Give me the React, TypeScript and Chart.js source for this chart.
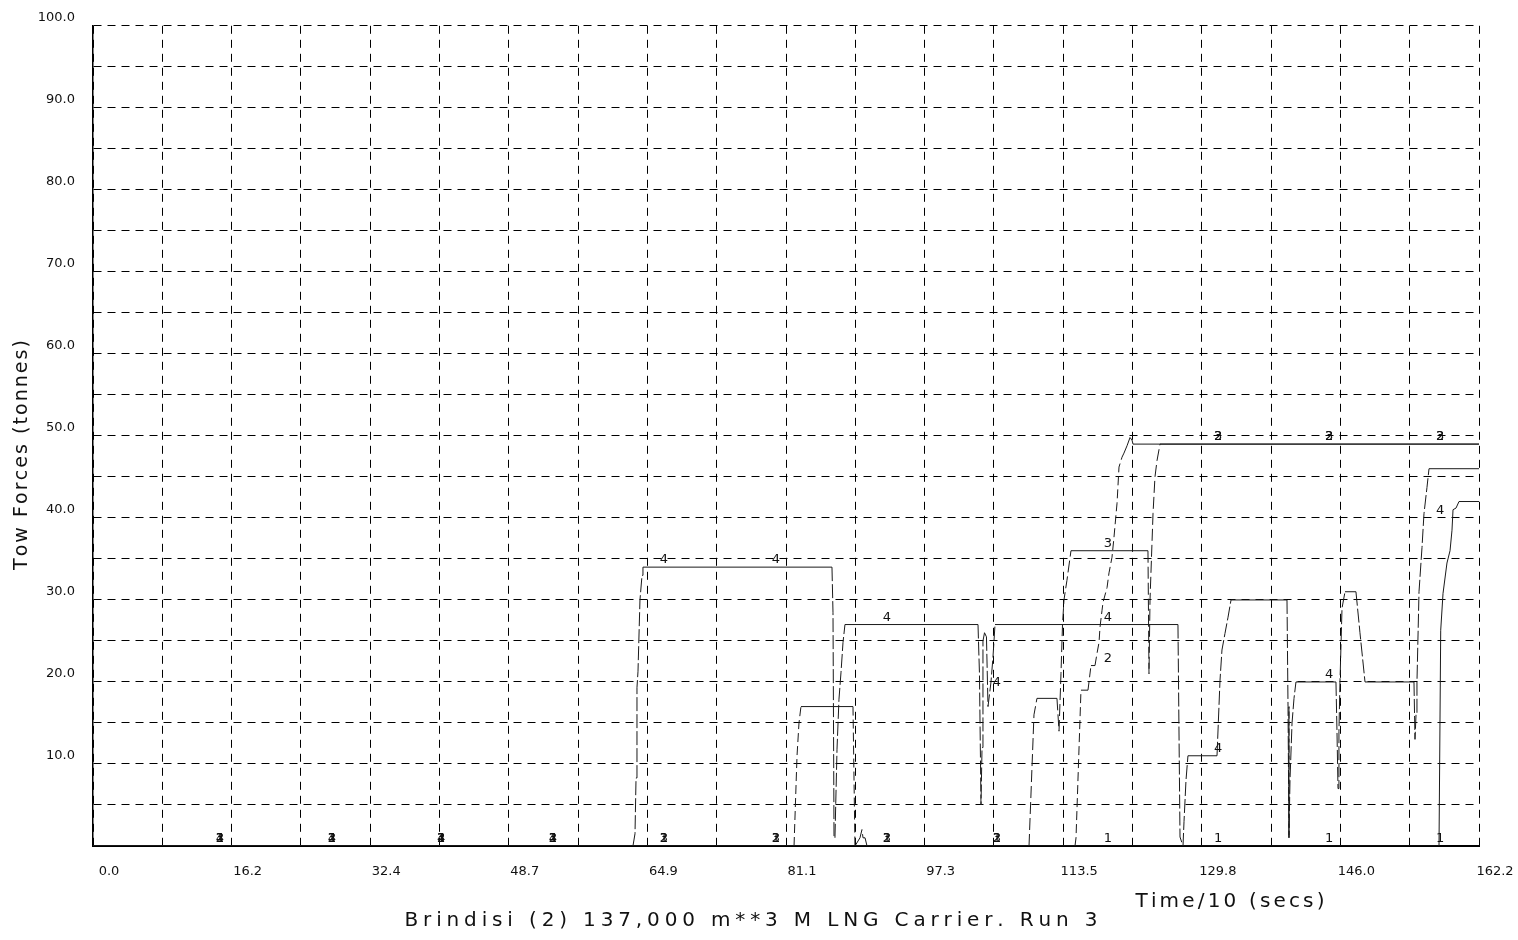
import React, { useEffect, useRef } from 'react';
import { Chart, registerables } from 'chart.js';

Chart.register(...registerables);

// ---- axes ----
const X_MIN = 0;
const X_MAX = 162.2;
const Y_MIN = 0;
const Y_MAX = 100;
const xGridTimes = [0, 8.11, 16.22, 24.33, 32.44, 40.55, 48.66, 56.77, 64.88, 72.99, 81.1, 89.21, 97.32, 105.43, 113.54, 121.65, 129.76, 137.87, 145.98, 154.09, 162.2];
const xTickLabels = ['0.0', '', '16.2', '', '32.4', '', '48.7', '', '64.9', '', '81.1', '', '97.3', '', '113.5', '', '129.8', '', '146.0', '', '162.2'];
const yGridValues = [0, 5, 10, 15, 20, 25, 30, 35, 40, 45, 50, 55, 60, 65, 70, 75, 80, 85, 90, 95, 100];

// ---- texts ----
const chartTitle = 'Brindisi (2) 137,000 m**3 M LNG Carrier. Run 3';
const xAxisTitle = 'Time/10 (secs)';
const yAxisTitle = 'Tow Forces (tonnes)';

// ---- tug 1 ----
const tug1Time = [0, 157.52, 157.72, 157.99, 158.45, 158.81, 159.04, 159.16, 159.51, 159.86, 162.2];
const tug1Force = [0, 0, 26.3, 30.8, 34.5, 36, 38.5, 41, 41.2, 42, 42];

// ---- tug 2 ----
const tug2Time = [
  0, 82.04, 82.39, 82.62, 82.85, 88.94, 89.17, 89.76, 89.99, 90.11,
  90.35, 90.58, 114.92, 115.04, 115.62, 116.44, 116.56, 116.79, 117.26, 117.5,
  117.73, 117.85, 118.08, 118.2, 118.67, 118.9, 119.25, 119.48, 119.84, 120.07,
  120.42, 120.65, 121.01, 121.36, 121.59, 121.71, 162.2,
];
const tug2Force = [
  0, 0, 11, 15, 17, 17, 0, 1, 2, 1,
  1, 0, 0, 1, 19, 19, 20, 22, 22, 23.5,
  24.8, 26.7, 28.7, 29.7, 31.5, 33.3, 35.2, 37.6, 41.8, 46.2,
  47.4, 47.9, 48.8, 49.8, 49.5, 49, 49,
];

// ---- tug 3 ----
const tug3Time = [
  0, 109.54, 110.12, 110.47, 112.81, 113.05, 113.28, 113.46, 113.63, 113.98,
  114.45, 123.46, 123.58, 123.7, 124.05, 124.28, 124.52, 124.87, 162.2,
];
const tug3Force = [
  0, 0, 16, 18, 18, 14, 21, 27, 30, 32.4,
  36, 36, 21, 30, 40.5, 45, 47, 49, 49,
];

// ---- tug 4 ----
const tug4Time = [
  0, 63.19, 63.43, 63.55, 63.66, 63.78, 64.01, 64.25, 64.36, 86.48,
  86.6, 86.72, 86.83, 87.07, 87.3, 87.54, 87.77, 88.0, 103.57, 103.74,
  103.92, 104.04, 104.15, 104.33, 104.56, 104.74, 105.09, 105.32, 105.56, 126.97,
  127.21, 127.56, 127.68, 127.91, 128.14, 131.54, 131.89, 132.12, 132.47, 132.83,
  133.18, 139.73, 139.85, 139.96, 140.08, 140.32, 140.55, 140.78, 145.46, 145.58,
  145.7, 145.81, 145.93, 146.17, 146.52, 147.8, 148.27, 148.86, 154.59, 154.71,
  154.83, 154.94, 155.18, 155.53, 155.76, 156.11, 156.35, 162.2,
];
const tug4Force = [
  0, 0, 1.5, 8.3, 19.3, 21.3, 30, 33, 34, 34,
  28.5, 1, 1, 11.8, 17.9, 21.2, 24.8, 27, 27, 21,
  5, 12, 25, 26, 25.5, 17, 20, 23, 27, 27,
  1.1, 0, 3, 8, 11, 11, 20.2, 23.9, 25.9, 27.9,
  30, 30, 17, 1, 8, 15, 18, 20, 20, 14,
  7, 14, 20, 29, 31, 31, 26, 20, 20, 13,
  16, 20, 31, 36.4, 40.5, 43.7, 46, 46,
];

// ---- curve identifier labels ----
const labelTimes = [14.86, 27.97, 40.73, 53.83, 66.82, 79.93, 92.92, 105.79, 118.78, 131.66, 144.65, 157.64];
const tug1LabelValues = [0, 0, 0, 0, 0, 0, 0, 0, 0, 0, 0, 0];
const tug2LabelValues = [0, 0, 0, 0, 0, 0, 0, 0, 22, 49, 49, 49];
const tug3LabelValues = [0, 0, 0, 0, 0, 0, 0, 0, 36, 49, 49, 49];
const tug4LabelValues = [0, 0, 0, 0, 34, 34, 27, 19, 27, 11, 20, 40];

const seriesNames = ['1', '2', '3', '4'];

const INK = '#111111';
const FONT_FAMILY = '"DejaVu Sans", "Liberation Sans", sans-serif';

function toPoints(t: number[], v: number[]) {
  return t.map((x, i) => ({ x, y: v[i] }));
}

const steepDash = (pattern: number[]) => (ctx: any) => {
  const dx = Math.abs(ctx.p1.x - ctx.p0.x);
  const dy = Math.abs(ctx.p1.y - ctx.p0.y);
  return dy > 3 * dx && dy > 6 ? pattern : undefined;
};

function drawSpaced(ctx: CanvasRenderingContext2D, text: string, cx: number, cy: number, targetWidth: number, font: string) {
  ctx.font = font;
  const chars = Array.from(text);
  const widths = chars.map((ch) => ctx.measureText(ch).width);
  const total = widths.reduce((a, b) => a + b, 0);
  const gap = chars.length > 1 ? (targetWidth - total) / (chars.length - 1) : 0;
  let x = cx - targetWidth / 2;
  ctx.textAlign = 'left';
  ctx.textBaseline = 'middle';
  chars.forEach((ch, i) => {
    ctx.fillText(ch, x, cy);
    x += widths[i] + gap;
  });
}

const textPlugin = {
  id: 'plotterTexts',
  afterDatasetsDraw(chart: any) {
    const ctx: CanvasRenderingContext2D = chart.ctx;
    const xs = chart.scales.x;
    const ys = chart.scales.y;
    const labelSets = [tug1LabelValues, tug2LabelValues, tug3LabelValues, tug4LabelValues];
    ctx.save();
    ctx.fillStyle = INK;
    ctx.font = '13px ' + FONT_FAMILY;
    ctx.textAlign = 'center';
    ctx.textBaseline = 'alphabetic';
    labelSets.forEach((vals, s) => {
      labelTimes.forEach((t, i) => {
        const px = xs.getPixelForValue(t);
        const py = ys.getPixelForValue(vals[i]);
        ctx.fillText(seriesNames[s], px, py - 4);
      });
    });
    ctx.restore();
  },
  afterDraw(chart: any) {
    const ctx: CanvasRenderingContext2D = chart.ctx;
    ctx.save();
    ctx.fillStyle = INK;
    const font = '20px ' + FONT_FAMILY;
    drawSpaced(ctx, chartTitle, 751, 921, 693, font);
    drawSpaced(ctx, xAxisTitle, 1230, 902, 189, font);
    ctx.translate(22, 455);
    ctx.rotate(-Math.PI / 2);
    drawSpaced(ctx, yAxisTitle, 0, 0, 230, '19px ' + FONT_FAMILY);
    ctx.restore();
  },
};

export default function App() {
  const canvasRef = useRef<HTMLCanvasElement | null>(null);

  useEffect(() => {
    if (!canvasRef.current) return;
    const lineBase = {
      borderColor: '#1a1a1a',
      borderWidth: 1,
      pointRadius: 0,
      pointHoverRadius: 0,
      fill: false,
      tension: 0,
    };
    const chart = new Chart(canvasRef.current, {
      type: 'line',
      data: {
        datasets: [
          { ...lineBase, label: 'Tug 1', data: toPoints(tug1Time, tug1Force) },
          { ...lineBase, label: 'Tug 2', data: toPoints(tug2Time, tug2Force), segment: { borderDash: steepDash([9, 4]) } },
          { ...lineBase, label: 'Tug 3', data: toPoints(tug3Time, tug3Force), segment: { borderDash: steepDash([12, 4]) } },
          { ...lineBase, label: 'Tug 4', data: toPoints(tug4Time, tug4Force), segment: { borderDash: steepDash([14, 3]) } },
        ],
      },
      options: {
        responsive: false,
        animation: false,
        devicePixelRatio: 1,
        parsing: true,
        layout: { padding: { top: 25, right: 39, left: 0, bottom: 0 } },
        plugins: {
          legend: { display: false },
          tooltip: { enabled: false },
          title: { display: false },
        },
        events: [],
        scales: {
          x: {
            type: 'linear',
            min: X_MIN,
            max: X_MAX,
            afterBuildTicks: (scale: any) => {
              scale.ticks = xGridTimes.map((v) => ({ value: v }));
            },
            afterFit: (scale: any) => {
              scale.height = 94;
            },
            grid: { color: '#000', lineWidth: 1, drawTicks: false },
            border: { display: true, color: '#000', width: 2, dash: [8, 6] },
            ticks: {
              autoSkip: false,
              maxRotation: 0,
              minRotation: 0,
              padding: 18,
              labelOffset: 16,
              color: INK,
              font: { family: FONT_FAMILY, size: 13 },
              callback: (_v: any, i: number) => xTickLabels[i] ?? '',
            },
          },
          y: {
            type: 'linear',
            min: Y_MIN,
            max: Y_MAX,
            afterBuildTicks: (scale: any) => {
              scale.ticks = yGridValues.map((v) => ({ value: v }));
            },
            afterFit: (scale: any) => {
              scale.width = 93;
            },
            grid: { color: '#000', lineWidth: 1, drawTicks: false },
            border: { display: true, color: '#000', width: 1.5, dash: [8, 6] },
            ticks: {
              autoSkip: false,
              padding: 18,
              labelOffset: -8,
              color: INK,
              font: { family: FONT_FAMILY, size: 13 },
              callback: (v: any) => (Number(v) % 10 === 0 && Number(v) > 0 ? Number(v).toFixed(1) : ''),
            },
          },
        },
      },
      plugins: [textPlugin],
    } as any);
    return () => chart.destroy();
  }, []);

  return (
    <div style={{ position: 'fixed', left: 0, top: 0, width: 1518, height: 940, background: '#ffffff' }}>
      <canvas ref={canvasRef} width={1518} height={940} style={{ display: 'block', width: 1518, height: 940 }} />
    </div>
  );
}
